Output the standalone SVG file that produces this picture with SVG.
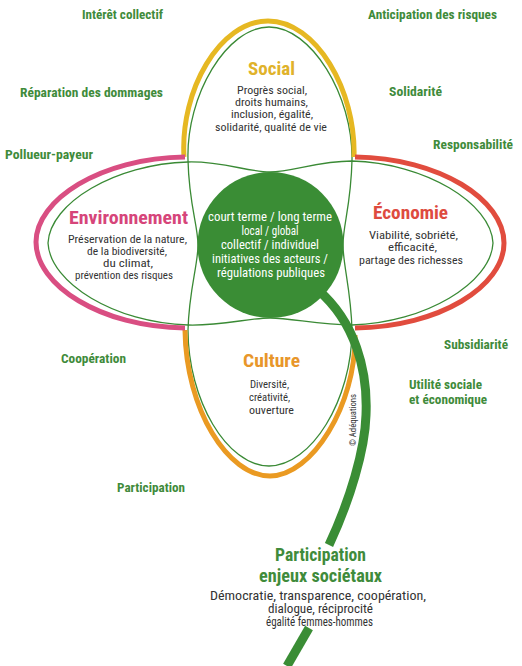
<svg xmlns="http://www.w3.org/2000/svg" width="522" height="666" viewBox="0 0 522 666">
<style>
text{font-family:'Roboto Condensed','DejaVu Sans Condensed','Liberation Sans Narrow',Roboto,'Liberation Sans',sans-serif;text-anchor:middle}
.lbl{font-weight:bold;font-size:12.5px;fill:#3f8b3b}
.ttl{font-weight:bold;font-size:18px}
.big{font-weight:bold;font-size:17.5px;fill:#3f8b3b}
.desc{font-size:11.2px;fill:#333}
.bdesc{font-size:12px;fill:#333}
.ctr{font-size:12.5px;fill:#fff}
.thin{fill:none;stroke:#3a8a35;stroke-width:1.3}
.thick{fill:none;stroke-width:5;stroke-linecap:butt}
.stem{fill:none;stroke:#3a8d35;stroke-width:9;stroke-linecap:butt}
</style>
<rect width="522" height="666" fill="#fff"/>
<g id="connectors">
<path class="thin" d="M48,243 C50,203 115,164 188,162 C222,161 248,172 270,172 C292,172 318,161 352,161 C425,163 491,203 493,243 C491,283 425,323 352,325 C318,325 292,318 270,318 C248,318 222,326 188,325 C115,323 50,283 48,243 Z"/>
<path class="thin" d="M269,27 C227,27 186,95 188,160 C189,205 198,225 198,245 C198,265 189,290 188,330 C188,400 227,466 269,466 C311,466 352,400 352,330 C351,290 343,265 343,245 C343,225 351,205 352,160 C353,95 311,27 269,27 Z"/>
<path class="thick" stroke="#e6b822" d="M184,157 C180,90 220,21 268,21 C316,21 356,90 354,157"/>
<path class="thick" stroke="#ea9a22" d="M185,330 C186,410 228,476 270,476 C312,476 356,405 355,335"/>
<path class="thick" stroke="#d94e82" d="M185,157 C100,158 36,200 36,242 C36,285 100,327 185,328"/>
<path class="thick" stroke="#e14c3e" d="M355,157 C440,158 504,200 504,243 C504,286 440,327 355,328"/>
<path class="stem" d="M318,290 C355,322 368,370 366,415 C365,450 350,500 329,545"/>
<path class="stem" d="M309,628 L287,666"/>
</g>
<g id="centre">
<circle cx="270.5" cy="245" r="73" fill="#3a8d35"/>
<text class="ctr" x="270" y="221" textLength="124" lengthAdjust="spacingAndGlyphs">court terme / long terme</text>
<text class="ctr" x="270" y="234.5" textLength="57" lengthAdjust="spacingAndGlyphs">local / global</text>
<text class="ctr" x="270" y="248.5" textLength="98" lengthAdjust="spacingAndGlyphs">collectif / individuel</text>
<text class="ctr" x="270" y="262.5" textLength="116" lengthAdjust="spacingAndGlyphs">initiatives des acteurs /</text>
<text class="ctr" x="271" y="276.5" textLength="108" lengthAdjust="spacingAndGlyphs">régulations publiques</text>
</g>
<g id="social">
<text class="ttl" x="271.5" y="74.5" fill="#e0b22a" textLength="47" lengthAdjust="spacingAndGlyphs">Social</text>
<text class="desc" x="272" y="93.5" textLength="70" lengthAdjust="spacingAndGlyphs">Progrès social,</text>
<text class="desc" x="271.5" y="105.5" textLength="73" lengthAdjust="spacingAndGlyphs">droits humains,</text>
<text class="desc" x="272" y="118" textLength="82" lengthAdjust="spacingAndGlyphs">inclusion, égalité,</text>
<text class="desc" x="271" y="130.5" textLength="112" lengthAdjust="spacingAndGlyphs">solidarité, qualité de vie</text>
</g>
<g id="environnement">
<text class="ttl" x="128.5" y="224" fill="#d6457a" textLength="119" lengthAdjust="spacingAndGlyphs">Environnement</text>
<text class="desc" x="127.5" y="243" textLength="119" lengthAdjust="spacingAndGlyphs">Préservation de la nature,</text>
<text class="desc" x="127" y="255" textLength="80" lengthAdjust="spacingAndGlyphs">de la biodiversité,</text>
<text class="desc" x="128" y="267" textLength="50" lengthAdjust="spacingAndGlyphs">du climat,</text>
<text class="desc" x="124" y="279" textLength="98" lengthAdjust="spacingAndGlyphs">prévention des risques</text>
</g>
<g id="economie">
<text class="ttl" x="410.5" y="218.5" fill="#de4b3f" textLength="75" lengthAdjust="spacingAndGlyphs">Économie</text>
<text class="desc" x="413.5" y="238.5" textLength="89" lengthAdjust="spacingAndGlyphs">Viabilité, sobriété,</text>
<text class="desc" x="412.5" y="251" textLength="49" lengthAdjust="spacingAndGlyphs">efficacité,</text>
<text class="desc" x="411" y="263.5" textLength="104" lengthAdjust="spacingAndGlyphs">partage des richesses</text>
</g>
<g id="culture">
<text class="ttl" x="271.5" y="367" fill="#e8962a" textLength="57" lengthAdjust="spacingAndGlyphs">Culture</text>
<text class="desc" x="269.5" y="387.5" textLength="39" lengthAdjust="spacingAndGlyphs">Diversité,</text>
<text class="desc" x="269.5" y="400.5" textLength="41" lengthAdjust="spacingAndGlyphs">créativité,</text>
<text class="desc" x="271.5" y="413.5" textLength="45" lengthAdjust="spacingAndGlyphs">ouverture</text>
</g>
<g id="participation-enjeux">
<text class="big" x="320.5" y="561" textLength="91" lengthAdjust="spacingAndGlyphs">Participation</text>
<text class="big" x="320.5" y="582" textLength="123" lengthAdjust="spacingAndGlyphs">enjeux sociétaux</text>
<text class="bdesc" x="318" y="599.5" textLength="216" lengthAdjust="spacingAndGlyphs">Démocratie, transparence, coopération,</text>
<text class="bdesc" x="320.5" y="612.5" textLength="105" lengthAdjust="spacingAndGlyphs">dialogue, réciprocité</text>
<text class="bdesc" x="319.5" y="625.5" textLength="107" lengthAdjust="spacingAndGlyphs">égalité femmes-hommes</text>
</g>
<g id="copyright">
<text x="0" y="0" transform="translate(356,420) rotate(-90)" style="font-size:9px;fill:#333" textLength="52" lengthAdjust="spacingAndGlyphs">© Adéquations</text>
</g>
<g id="labels">
<text id="interet-collectif" class="lbl" x="122.5" y="19" textLength="81" lengthAdjust="spacingAndGlyphs">Intérêt collectif</text>
<text id="reparation" class="lbl" x="91.5" y="96.5" textLength="143" lengthAdjust="spacingAndGlyphs">Réparation des dommages</text>
<text id="pollueur" class="lbl" x="49" y="158.5" textLength="88" lengthAdjust="spacingAndGlyphs">Pollueur-payeur</text>
<text id="anticipation" class="lbl" x="432.5" y="19" textLength="129" lengthAdjust="spacingAndGlyphs">Anticipation des risques</text>
<text id="solidarite" class="lbl" x="415.5" y="95.5" textLength="53" lengthAdjust="spacingAndGlyphs">Solidarité</text>
<text id="responsabilite" class="lbl" x="473" y="149" textLength="80" lengthAdjust="spacingAndGlyphs">Responsabilité</text>
<text id="cooperation" class="lbl" x="93.5" y="363" textLength="65" lengthAdjust="spacingAndGlyphs">Coopération</text>
<text id="participation" class="lbl" x="151" y="491.5" textLength="68" lengthAdjust="spacingAndGlyphs">Participation</text>
<text id="subsidiarite" class="lbl" x="476" y="349" textLength="64" lengthAdjust="spacingAndGlyphs">Subsidiarité</text>
<text id="utilite" class="lbl" x="409" y="389" style="text-anchor:start" textLength="73" lengthAdjust="spacingAndGlyphs">Utilité sociale</text>
<text id="economique" class="lbl" x="409" y="403.5" style="text-anchor:start" textLength="78" lengthAdjust="spacingAndGlyphs">et économique</text>
</g>
</svg>
